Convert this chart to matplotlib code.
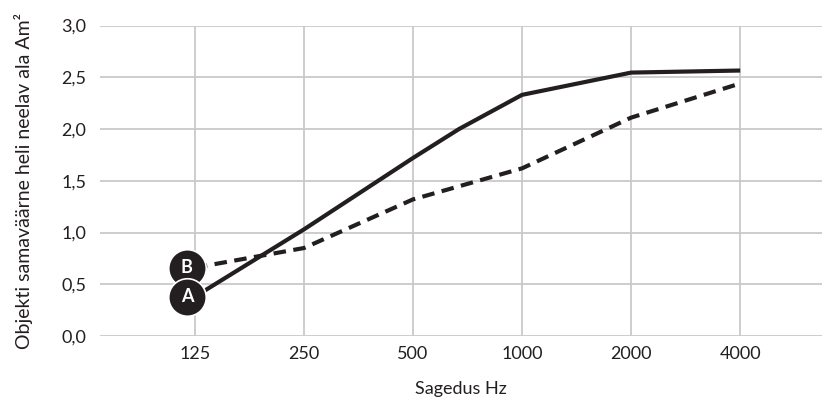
import numpy as np
import matplotlib
matplotlib.use('Agg')
import matplotlib.pyplot as plt
import matplotlib.ticker as mtick
from matplotlib.transforms import offset_copy

plt.rcParams['font.family'] = ['Lato', 'DejaVu Sans']

# andmed
freq_labels = ['125', '250', '500', '1000', '2000', '4000']
freq_ticks = [125, 250, 500, 1000, 2000, 4000]

freq_a = [125, 250, 500, 670, 1000, 2000, 4000]
val_a = [0.38, 1.03, 1.72, 2.00, 2.33, 2.545, 2.565]

freq_b = [125, 250, 500, 1000, 2000, 4000]
val_b = [0.66, 0.85, 1.32, 1.62, 2.11, 2.44]

y_ticks = [0.0, 0.5, 1.0, 1.5, 2.0, 2.5, 3.0]

ink = '#231f20'
grid_col = '#c9c9c9'

fig = plt.figure(figsize=(8.26, 4.01), dpi=100)
ax = fig.add_axes([100 / 826, 1 - 336 / 401, 722 / 826, (336 - 25.5) / 401])

ax.plot(freq_a, val_a, color=ink, lw=3, solid_capstyle='butt', zorder=3)
ax.plot(freq_b, val_b, color=ink, lw=3, dashes=(3, 1.8), zorder=3)

# ringid A ja B joonte alguses
for f, v, lab in [(freq_b[0], val_b[0], 'B'), (freq_a[0], val_a[0], 'A')]:
    tr = offset_copy(ax.transData, fig=fig, x=-8, y=0, units='dots')
    ax.plot([f], [v], 'o', ms=27, color=ink, mec='white', mew=1.2,
            transform=tr, zorder=4, clip_on=False)
    ax.text(f, v, lab, transform=tr, color='white', fontsize=13,
            fontweight='bold', ha='center', va='center', zorder=5)

ax.set_xscale('log', base=2)
ax.set_xlim(125 * 2 ** -0.87, 125 * 2 ** 5.75)
ax.set_ylim(0, 3.0)
ax.set_xticks(freq_ticks)
ax.set_xticklabels(freq_labels)
ax.xaxis.set_minor_locator(mtick.NullLocator())
ax.set_yticks(y_ticks)
ax.set_yticklabels([f'{t:.1f}'.replace('.', ',') for t in y_ticks])

ax.grid(True, color=grid_col, lw=1.3)
ax.set_axisbelow(True)
for s in ax.spines.values():
    s.set_visible(False)
ax.tick_params(length=0, labelsize=13, colors=ink, pad=7)
ax.tick_params(axis='y', pad=10)

ax.set_xlabel('Sagedus Hz', fontsize=13, color=ink, labelpad=14)
ax.set_ylabel('Objekti samaväärne heli neelav ala Am²', fontsize=14,
              color=ink, labelpad=20)

fig.savefig('out.png', dpi=100)
